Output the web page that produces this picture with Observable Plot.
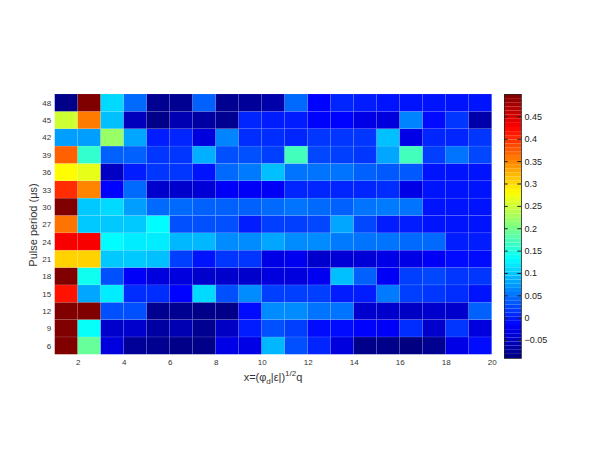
<!DOCTYPE html>
<html>
<head>
<meta charset="utf-8">
<script src="https://cdn.jsdelivr.net/npm/d3@7"></script>
<script src="https://cdn.jsdelivr.net/npm/@observablehq/plot@0.6"></script>
<style>
  html, body { margin: 0; padding: 0; background: #fff; }
  #wrap { position: relative; width: 599px; height: 450px; }
  #wrap svg { position: absolute; left: 0; top: 0; }
</style>
</head>
<body>
<div id="wrap"></div>
<script>
// ---- data ----
const xStart = [1,2,3,4,5,6,7,8,9,10,11,12,13,14,15,16,17,18,19];
const xTicks = [2,4,6,8,10,12,14,16,18,20];
const periods = [6,9,12,15,18,21,24,27,30,33,36,39,42,45,48];
const cbTicks = [-0.05,0,0.05,0.1,0.15,0.2,0.25,0.3,0.35,0.4,0.45];

const r6  = [0.5, 0.19, -0.035, -0.075, -0.08, -0.085, -0.085, -0.03, -0.03, 0.09, 0.03, 0.005, -0.035, -0.085, -0.085, -0.09, -0.08, -0.03, -0.01];
const r9  = [0.5, 0.135, -0.045, -0.045, -0.07, -0.06, -0.08, -0.05, 0.0, 0.03, 0.02, -0.01, -0.01, -0.015, -0.02, 0.01, -0.045, 0.015, -0.035];
const r12 = [0.5, 0.5, 0.03, 0.03, -0.08, -0.08, -0.085, -0.085, -0.01, 0.065, 0.065, 0.05, 0.05, -0.045, -0.045, -0.05, -0.045, -0.045, 0.04];
const r15 = [0.415, 0.08, 0.12, 0.01, 0.01, -0.015, 0.11, 0.03, 0.065, 0.02, 0.02, 0.02, 0.0, 0.0, 0.055, 0.02, 0.015, 0.01, -0.005];
const r18 = [0.5, 0.14, 0.03, -0.02, -0.035, -0.035, -0.045, -0.045, -0.045, -0.035, -0.035, -0.025, 0.095, 0.04, -0.02, 0.02, 0.025, 0.015, 0.015];
const r21 = [0.305, 0.305, 0.1, 0.1, 0.095, 0.02, -0.005, 0.015, 0.015, -0.03, -0.025, -0.045, -0.04, -0.04, -0.03, -0.03, -0.02, -0.01, -0.01];
const r24 = [0.43, 0.43, 0.13, 0.12, 0.12, 0.09, 0.09, 0.065, 0.065, 0.08, 0.065, 0.065, 0.055, 0.05, 0.05, 0.045, 0.045, 0.0, 0.0];
const r27 = [0.36, 0.1, 0.1, 0.1, 0.13, 0.03, 0.03, 0.03, 0.0, 0.02, 0.02, 0.025, 0.08, 0.025, 0.0, 0.0, -0.005, -0.005, -0.005];
const r30 = [0.5, 0.1, 0.11, 0.075, 0.045, 0.045, 0.04, 0.04, 0.04, 0.045, 0.05, 0.045, 0.04, 0.05, 0.055, 0.05, -0.005, -0.005, -0.005];
const r33 = [0.4, 0.35, -0.015, 0.045, -0.045, -0.045, -0.04, -0.02, -0.02, -0.02, 0.005, 0.005, 0.005, 0.005, 0.01, -0.03, -0.005, -0.005, -0.005];
const r36 = [0.28, 0.265, -0.05, 0.0, 0.015, 0.015, -0.005, 0.045, 0.055, 0.095, 0.05, 0.05, 0.05, 0.04, 0.035, 0.035, -0.005, -0.005, -0.005];
const r39 = [0.37, 0.16, 0.04, 0.04, 0.015, 0.015, 0.085, 0.03, 0.03, 0.02, 0.17, 0.025, 0.02, 0.015, 0.08, 0.17, 0.02, 0.05, 0.025];
const r42 = [0.075, 0.075, 0.22, 0.08, 0.0, 0.005, -0.035, 0.06, 0.01, 0.01, 0.005, 0.015, 0.015, 0.015, 0.095, -0.03, 0.005, 0.005, 0.015];
const r45 = [0.25, 0.355, 0.095, -0.055, -0.085, -0.06, -0.07, -0.08, 0.005, 0.0, 0.0, -0.015, -0.015, -0.03, -0.035, 0.06, -0.01, 0.015, -0.065];
const r48 = [-0.085, 0.5, 0.11, 0.045, -0.08, -0.08, 0.04, -0.08, -0.075, -0.065, 0.045, -0.015, 0.005, 0.0, -0.005, -0.005, -0.005, -0.005, -0.005];

const rows = [r6, r9, r12, r15, r18, r21, r24, r27, r30, r33, r36, r39, r42, r45, r48];

// ---- jet colormap ----
function jet(t) {
  const c = v => Math.max(0, Math.min(1, v));
  const r = c(Math.min(4 * t - 1.5, -4 * t + 4.5));
  const g = c(Math.min(4 * t - 0.5, -4 * t + 3.5));
  const b = c(Math.min(4 * t + 0.5, -4 * t + 2.5));
  return `rgb(${Math.round(r * 255)},${Math.round(g * 255)},${Math.round(b * 255)})`;
}
const cDomain = [-0.09, 0.5];
const colorOpts = {type: "linear", domain: cDomain, interpolate: jet, clamp: true};

const cells = [];
rows.forEach((vals, i) => vals.forEach((v, j) => cells.push({x: xStart[j], p: periods[i], v})));

const font = "'Liberation Sans', Arial, Helvetica, sans-serif";

const main = Plot.plot({
  width: 599, height: 450,
  marginLeft: 54.7, marginRight: 107.3, marginTop: 94, marginBottom: 95.7,
  x: {domain: [1, 20]},
  y: {domain: [4.5, 49.5]},
  color: colorOpts,
  style: {fontFamily: font, fontSize: "8px", color: "#333", background: "white"},
  marks: [
    Plot.rect(cells, {
      x1: "x", x2: d => d.x + 1,
      y1: d => d.p - 1.5, y2: d => d.p + 1.5,
      fill: "v", stroke: "white", strokeOpacity: 0.14, strokeWidth: 0.6
    }),
    Plot.axisX({ticks: xTicks, tickSize: 0, tickPadding: 5, label: null}),
    Plot.axisY({ticks: periods, tickSize: 0, tickPadding: 4, label: null})
  ]
});

const steps = d3.range(64).map(i => {
  const lo = cDomain[0] + (cDomain[1] - cDomain[0]) * i / 64;
  const hi = cDomain[0] + (cDomain[1] - cDomain[0]) * (i + 1) / 64;
  return {lo, hi, mid: (lo + hi) / 2};
});

const cbar = Plot.plot({
  width: 599, height: 450,
  marginLeft: 504, marginRight: 78, marginTop: 94, marginBottom: 92,
  x: {domain: [0, 1], axis: null},
  y: {domain: cDomain},
  color: colorOpts,
  style: {fontFamily: font, fontSize: "9px", color: "#222", background: "transparent"},
  marks: [
    Plot.rect(steps, {x1: 0, x2: 1, y1: "lo", y2: "hi", fill: "mid"}),
    Plot.ruleY(cbTicks, {x1: 0, x2: 0.22, stroke: "#222", strokeWidth: 1}),
    Plot.ruleY(cbTicks, {x1: 0.78, x2: 1, stroke: "#222", strokeWidth: 1}),
    Plot.frame({stroke: "#222", strokeWidth: 0.8}),
    Plot.axisY({anchor: "right", ticks: cbTicks, tickSize: 0, tickPadding: 3, label: null,
      tickFormat: d => d === 0 ? "0" : d3.format("")(d)})
  ]
});
cbar.style.pointerEvents = "none";

const wrap = document.getElementById("wrap");
wrap.appendChild(main);
wrap.appendChild(cbar);

// axis titles
const svg = d3.select(main);
svg.append("text")
  .attr("transform", "translate(34,225) rotate(-90)")
  .attr("text-anchor", "middle")
  .attr("dominant-baseline", "middle")
  .attr("font-family", font).attr("font-size", 11).attr("fill", "#333")
  .text("Pulse period (μs)");

const xl = svg.append("text")
  .attr("x", 273).attr("y", 381)
  .attr("text-anchor", "middle")
  .attr("font-family", font).attr("font-size", 11).attr("fill", "#333");
xl.append("tspan").text("x=(φ");
xl.append("tspan").attr("dy", 3).attr("font-size", 8).text("d");
xl.append("tspan").attr("dy", -3).text("|ε|)");
xl.append("tspan").attr("dy", -5).attr("font-size", 8).text("1/2");
xl.append("tspan").attr("dy", 5).text("q");
</script>
</body>
</html>
